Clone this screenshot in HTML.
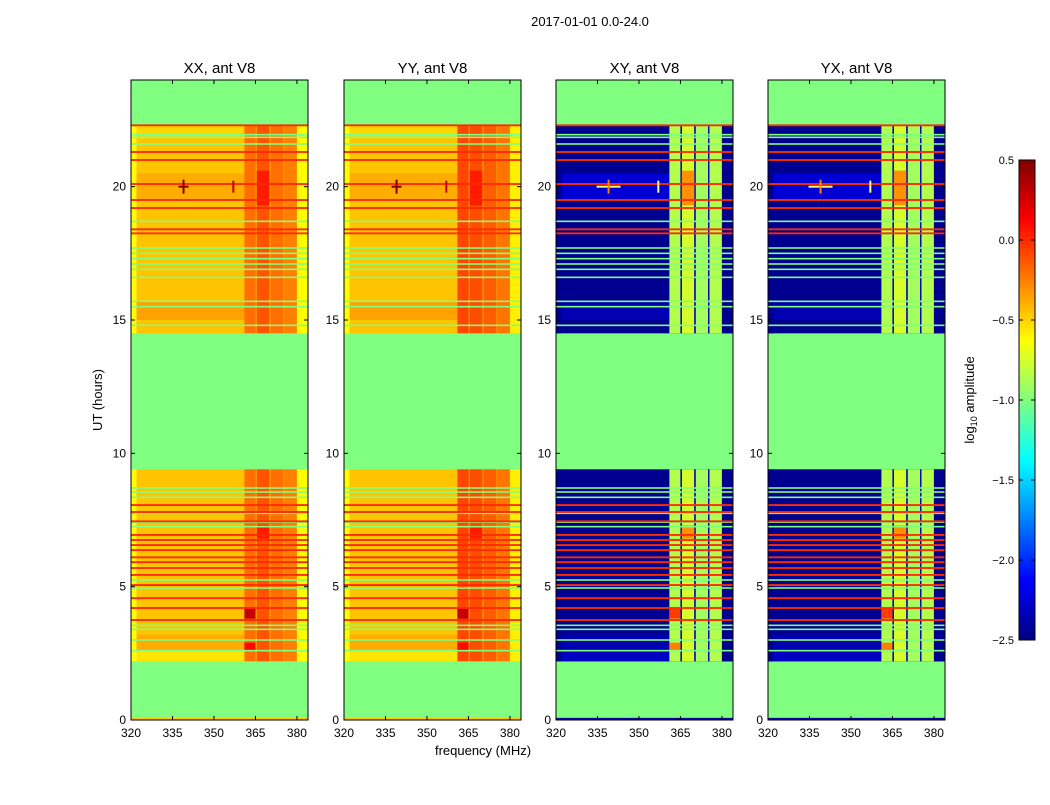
<!DOCTYPE html>
<html><head><meta charset="utf-8"><style>
body{margin:0;background:#fff;}
svg text{font-family:"Liberation Sans",sans-serif;}
</style></head><body>
<svg id="fig" width="1050" height="800" xmlns="http://www.w3.org/2000/svg">
<rect width="1050" height="800" fill="#fff"/>
<text x="590" y="26" font-size="13" text-anchor="middle">2017-01-01 0.0-24.0</text>
<text x="483" y="755" font-size="13" text-anchor="middle">frequency (MHz)</text>
<text transform="translate(102,400) rotate(-90)" font-size="13" text-anchor="middle">UT (hours)</text>
<text transform="translate(974,400) rotate(-90)" font-size="13" text-anchor="middle">log<tspan font-size="9" dy="3">10</tspan><tspan dy="-3"> amplitude</tspan></text>
</svg>
<script>
// ---- data ----
const panelTitles = ["XX, ant V8","YY, ant V8","XY, ant V8","YX, ant V8"];
const xTicks = [320,335,350,365,380];
const yTicks = [0,5,10,15,20];
const cbTicks = [0.5,0.0,-0.5,-1.0,-1.5,-2.0,-2.5];
// data blocks: start hour, end hour
const blockStart = [2.2, 14.5];
const blockEnd = [9.4, 22.3];
// base log amplitude per panel
const baseLevel = [-0.45, -0.45, -2.45, -2.45];
// time sub-bands with different base level [XX,YY,XY,YX]
const subStart = [2.2, 2.6, 15.0, 19.5, 21.8];
const subEnd = [2.6, 3.2, 15.7, 20.5, 22.3];
const subLevel = [[-0.55,-0.55,-2.3,-2.3],[-0.38,-0.38,-2.35,-2.35],[-0.35,-0.35,-2.35,-2.35],[-0.38,-0.38,-2.25,-2.25],[-0.5,-0.5,-2.45,-2.45]];
// frequency bands (RFI-ish structure)
const bandStart = [320, 361, 365.5, 370.5, 375.5, 380];
const bandEnd = [322, 365, 370, 375, 380, 384];
const bandLevel = [[-0.62,-0.62,-2.45,-2.45],[-0.2,-0.08,-0.85,-0.85],[-0.12,-0.1,-0.75,-0.75],[-0.2,-0.15,-0.9,-0.9],[-0.25,-0.22,-0.85,-0.85],[-0.62,-0.58,-2.45,-2.45]];
// gaps between bands
const gapFreq = [365.25, 370.25, 375.25];
const gapLevel = [-0.3, -0.25, -2.3, -2.3];
// hot spots in bands: hour start, hour end, band index, value
const spotStart = [19.3, 6.8, 3.8, 2.6];
const spotEnd = [20.6, 7.3, 4.2, 2.9];
const spotBand = [2, 2, 1, 1];
const spotLevel = [0.05, 0.05, 0.3, 0.1];
// flagged/interference rows
const redLines = [22.3,21.3,21.0,20.1,19.5,19.2,18.4,18.25,8.06,7.8,7.45,6.94,6.75,6.56,6.37,6.1,5.92,5.7,5.44,5.06,4.57,4.2,3.75];
const greenLines = [21.95,21.85,21.6,18.7,17.7,17.5,17.3,17.1,16.9,16.6,15.7,15.5,14.8,8.7,8.55,8.35,7.75,7.42,7.25,5.25,4.95,3.55,3.4,3.0,2.6];
// point sources at 20h
const srcFreq = [339, 357];
const srcTime = [20.0, 20.0];

// ---- scales ----
const panelX = [131, 344, 556, 768];
const PW = 177, PT = 80, PB = 720;
const F0 = 320, F1 = 384, T0 = 0, T1 = 24;
function sx(p,f){return panelX[p] + (f-F0)/(F1-F0)*PW;}
function sy(t){return PB - (t-T0)/(T1-T0)*(PB-PT);}
const V0=-2.5, V1=0.5;
function jet(v){
  let x=Math.max(0,Math.min(1,(v-V0)/(V1-V0)));
  function c(a){return Math.round(255*Math.max(0,Math.min(1,a)));}
  const r=c(Math.min(4*x-1.5,-4*x+4.5)), g=c(Math.min(4*x-0.5,-4*x+3.5)), b=c(Math.min(4*x+0.5,-4*x+2.5));
  return `rgb(${r},${g},${b})`;
}
const NS="http://www.w3.org/2000/svg";
const svg=document.getElementById('fig');
function el(tag,attrs,parent){const e=document.createElementNS(NS,tag);for(const k in attrs)e.setAttribute(k,attrs[k]);(parent||svg).appendChild(e);return e;}
function rectT(g,p,f0,f1,t0,t1,v,name){
  const y1=sy(t1), y0=sy(t0);
  const r=el('rect',{x:sx(p,f0),y:y1,width:sx(p,f1)-sx(p,f0),height:Math.max(y0-y1,1),fill:jet(v)},g);
  
  
  return r;
}

for(let p=0;p<4;p++){
  const g=el('g',{});
  
  
  rectT(g,p,F0,F1,T0,T1,-1.0,'flagged-background');
  for(let b=0;b<blockStart.length;b++){
    rectT(g,p,F0,F1,blockStart[b],blockEnd[b],baseLevel[p],'data-block');
    for(let s=0;s<subStart.length;s++){
      if(subStart[s]>=blockStart[b]&&subEnd[s]<=blockEnd[b]) rectT(g,p,F0,F1,subStart[s],subEnd[s],subLevel[s][p],'time-subband');
    }
    for(let k=0;k<bandStart.length;k++){
      rectT(g,p,bandStart[k],bandEnd[k],blockStart[b],blockEnd[b],bandLevel[k][p],'freq-band');
    }
    for(const f of gapFreq){
      rectT(g,p,f-0.25,f+0.25,blockStart[b],blockEnd[b],gapLevel[p],'band-gap');
    }
    for(let s=0;s<spotStart.length;s++){
      if(spotStart[s]>=blockStart[b]&&spotEnd[s]<=blockEnd[b]){
        const k=spotBand[s];
        const lv = p<2 ? spotLevel[s] : spotLevel[s]-0.35;
        rectT(g,p,bandStart[k],bandEnd[k],spotStart[s],spotEnd[s],lv,'hot-spot');
      }
    }
  }
  rectT(g,p,F0,F1,0,0.08,p<2?-0.45:-2.4,'edge-row');
  for(const t of greenLines) rectT(g,p,F0,F1,t-0.03,t+0.03,-1.0,'green-line');
  for(const t of redLines) rectT(g,p,F0,F1,t-0.035,t+0.035,0.0,'red-line');
  for(let s=0;s<srcFreq.length;s++){
    const cx=sx(p,srcFreq[s]), cy=sy(srcTime[s]);
    const col = p<2 ? '#800000' : '#ffff80';
    if(s===0){
      const h=el('rect',{x:cx-(p<2?5:12),y:cy-1,width:p<2?10:24,height:2,fill:col},g);
      
      const v=el('rect',{x:cx-1,y:cy-7,width:2,height:14,fill:p<2?col:'#ff8000'},g);
      
    } else {
      const v=el('rect',{x:cx-1,y:cy-6,width:2,height:12,fill:p<2?'#c00000':'#ffff80'},g);
      
    }
  }
  const fr=el('rect',{x:panelX[p],y:PT,width:PW,height:PB-PT,fill:'none',stroke:'#000','stroke-width':1});
  
  const tt=el('text',{x:panelX[p]+PW/2,y:73,'font-size':15,'text-anchor':'middle'});
  tt.textContent=panelTitles[p];
  
  for(const f of xTicks){
    const x=sx(p,f);
    el('line',{x1:x,x2:x,y1:PB,y2:PB-4,stroke:'#000'});
    el('line',{x1:x,x2:x,y1:PT,y2:PT+4,stroke:'#000'});
    const t=el('text',{x:x,y:PB+17,'font-size':12,'text-anchor':'middle'});
    t.textContent=f;
    
  }
  for(const v of yTicks){
    const y=sy(v);
    el('line',{x1:panelX[p],x2:panelX[p]+4,y1:y,y2:y,stroke:'#000'});
    el('line',{x1:panelX[p]+PW,x2:panelX[p]+PW-4,y1:y,y2:y,stroke:'#000'});
    const t=el('text',{x:panelX[p]-5,y:y+4,'font-size':12,'text-anchor':'end'});
    t.textContent=v;
    
  }
}
// colorbar
const CBX=1019, CBW=16, CBT=160, CBB=640;
function cy(v){return CBB-(v-V0)/(V1-V0)*(CBB-CBT);}
const cbg=el('g',{});


for(let i=0;i<120;i++){
  const v0=V0+i*(V1-V0)/120, v1=V0+(i+1)*(V1-V0)/120;
  el('rect',{x:CBX,y:cy(v1),width:CBW,height:cy(v0)-cy(v1)+0.5,fill:jet((v0+v1)/2)},cbg);
}
el('rect',{x:CBX,y:CBT,width:CBW,height:CBB-CBT,fill:'none',stroke:'#000'},cbg);
for(const v of cbTicks){
  const y=cy(v);
  el('line',{x1:CBX,x2:CBX+4,y1:y,y2:y,stroke:'#000'},cbg);
  el('line',{x1:CBX+CBW,x2:CBX+CBW-4,y1:y,y2:y,stroke:'#000'},cbg);
  const t=el('text',{x:CBX-5,y:y+4,'font-size':11,'text-anchor':'end'},cbg);
  t.textContent=(v<0?'\u2212':'')+Math.abs(v).toFixed(1);
  
}
</script>
</body></html>
